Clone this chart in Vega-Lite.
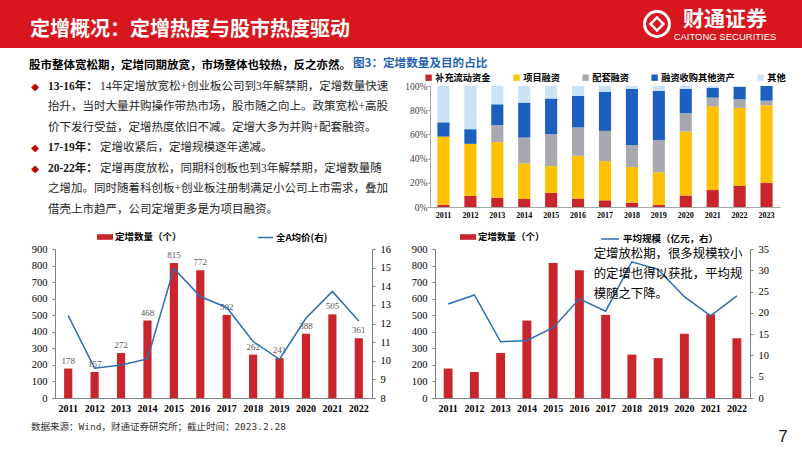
{
  "$schema": "https://vega.github.io/schema/vega-lite/v6.json",
  "background": "white",
  "padding": 0,
  "autosize": {"type": "pad"},
  "spacing": 0,
  "bounds": "full",
  "resolve": {"scale": {"color": "independent", "stroke": "independent"}},
  "title": {"text": "定增概况：定增热度与股市热度驱动", "anchor": "start", "frame": "bounds", "orient": "top", "offset": -50, "dx": 30, "baseline": "middle", "color": "white", "fontSize": 20, "fontWeight": "bold", "font": "Noto Sans CJK SC"},
  "config": {"view": {"stroke": null}, "concat": {"spacing": 0}, "axis": {"labelOverlap": false}},
  "vconcat": [
    {
      "hconcat": [
        {"width": 640, "height": 48, "view": {"fill": "#d7161d", "stroke": null}, "data": {"values": []}, "mark": "point", "encoding": {}},
        {"width": 34, "height": 48, "view": {"fill": "#d7161d", "stroke": null}, "data": {"values": [{"k": "logo"}]},
          "layer": [
            {"mark": {"type": "point", "shape": "circle", "filled": false, "stroke": "white", "strokeWidth": 3, "size": 620, "opacity": 1}},
            {"mark": {"type": "point", "shape": "diamond", "filled": false, "stroke": "white", "strokeWidth": 2.5, "size": 170, "opacity": 1}}
          ]},
        {"width": 102, "height": 48, "view": {"fill": "#d7161d", "stroke": null},
          "data": {"values": [{"r": "cn", "t": "财通证券"}, {"r": "en", "t": "CAITONG SECURITIES"}]},
          "encoding": {"y": {"field": "r", "type": "nominal", "scale": {"type": "point", "domain": ["cn", "en"], "range": [20, 37], "padding": 0}, "axis": null}, "text": {"field": "t"}},
          "layer": [
            {"transform": [{"filter": "datum.r === 'cn'"}], "mark": {"type": "text", "fontSize": 21, "fontWeight": "bold", "font": "Noto Sans CJK SC", "color": "white", "baseline": "middle"}},
            {"transform": [{"filter": "datum.r === 'en'"}], "mark": {"type": "text", "fontSize": 9.5, "font": "Liberation Sans", "color": "white", "baseline": "middle"}}
          ]},
        {"width": 26, "height": 48, "view": {"fill": "#d7161d", "stroke": null}, "data": {"values": []}, "mark": "point", "encoding": {}}
      ],
      "spacing": 0, "bounds": "flush",
      "resolve": {"scale": {"color": "independent", "stroke": "independent"}}
    },
    {
      "hconcat": [
        {
          "width": 430, "height": 181,
          "data": {"values": [
            {"line": 1, "kind": "lead", "pre": "", "t": "股市整体宽松期，定增同期放宽，市场整体也较热，反之亦然。"},
            {"line": 2, "kind": "body", "pre": "13-16年：", "t": "14年定增放宽松+创业板公司到3年解禁期，定增数量快速"},
            {"line": 3, "kind": "body", "pre": "", "t": "抬升，当时大量并购操作带热市场，股市随之向上。政策宽松+高股"},
            {"line": 4, "kind": "body", "pre": "", "t": "价下发行受益，定增热度依旧不减。定增大多为并购+配套融资。"},
            {"line": 5, "kind": "body", "pre": "17-19年：", "t": "定增收紧后，定增规模逐年递减。"},
            {"line": 6, "kind": "body", "pre": "20-22年：", "t": "定增再度放松，同期科创板也到3年解禁期，定增数量随"},
            {"line": 7, "kind": "body", "pre": "", "t": "之增加。同时随着科创板+创业板注册制满足小公司上市需求，叠加"},
            {"line": 8, "kind": "body", "pre": "", "t": "借壳上市趋严，公司定增更多是为项目融资。"}
          ]},
          "encoding": {
            "x": {"field": "kind", "type": "nominal", "scale": {"type": "point", "domain": ["lead", "body"], "range": [29, 48], "padding": 0}, "axis": null},
            "y": {"field": "line", "type": "ordinal", "scale": {"type": "point", "domain": [1, 2, 3, 4, 5, 6, 7, 8], "range": [18, 162], "padding": 0}, "axis": null}
          },
          "layer": [
            {"transform": [{"filter": "datum.kind === 'lead'"}], "mark": {"type": "text", "align": "left", "baseline": "middle", "fontSize": 11.5, "fontWeight": "bold", "font": "Noto Sans CJK SC", "color": "#000000"}, "encoding": {"text": {"field": "t"}}},
            {"transform": [{"filter": "datum.pre !== ''"}], "mark": {"type": "text", "align": "center", "baseline": "middle", "dx": -13, "fontSize": 10, "font": "DejaVu Sans", "color": "#c00000"}, "encoding": {"text": {"value": "◆"}}},
            {"transform": [{"filter": "datum.pre !== ''"}], "mark": {"type": "text", "align": "left", "baseline": "middle", "fontSize": 11.5, "fontWeight": "bold", "font": "Liberation Serif, Noto Sans CJK SC", "color": "#1a1a1a"}, "encoding": {"text": {"field": "pre"}}},
            {"transform": [{"filter": "datum.pre !== ''"}], "mark": {"type": "text", "align": "left", "baseline": "middle", "dx": 52, "fontSize": 11.5, "font": "Liberation Serif, Noto Sans CJK SC", "color": "#262626"}, "encoding": {"text": {"field": "t"}}},
            {"transform": [{"filter": "datum.kind === 'body' && datum.pre === ''"}], "mark": {"type": "text", "align": "left", "baseline": "middle", "fontSize": 11.5, "font": "Liberation Serif, Noto Sans CJK SC", "color": "#262626"}, "encoding": {"text": {"field": "t"}}}
          ]
        },
        {
          "vconcat": [
            {"width": 350, "height": 38, "data": {"values": []}, "mark": "point", "encoding": {}},
            {
              "width": 350, "height": 121,
              "title": {"text": "图3：定增数量及目的占比", "anchor": "start", "frame": "group", "orient": "top", "dx": -77, "offset": -3, "baseline": "middle", "fontSize": 11.6, "fontWeight": "bold", "color": "#1f5fb4", "font": "Noto Sans CJK SC"},
              "data": {"values": [
                {"year": "2011", "c": "补充流动资金", "o": 1, "v": 1.6}, {"year": "2011", "c": "项目融资", "o": 2, "v": 56.6}, {"year": "2011", "c": "配套融资", "o": 3, "v": 0}, {"year": "2011", "c": "融资收购其他资产", "o": 4, "v": 11.8}, {"year": "2011", "c": "其他", "o": 5, "v": 30.0},
                {"year": "2012", "c": "补充流动资金", "o": 1, "v": 9.1}, {"year": "2012", "c": "项目融资", "o": 2, "v": 43.1}, {"year": "2012", "c": "配套融资", "o": 3, "v": 0}, {"year": "2012", "c": "融资收购其他资产", "o": 4, "v": 12.1}, {"year": "2012", "c": "其他", "o": 5, "v": 35.7},
                {"year": "2013", "c": "补充流动资金", "o": 1, "v": 7.7}, {"year": "2013", "c": "项目融资", "o": 2, "v": 45.9}, {"year": "2013", "c": "配套融资", "o": 3, "v": 14.0}, {"year": "2013", "c": "融资收购其他资产", "o": 4, "v": 17.3}, {"year": "2013", "c": "其他", "o": 5, "v": 15.1},
                {"year": "2014", "c": "补充流动资金", "o": 1, "v": 6.6}, {"year": "2014", "c": "项目融资", "o": 2, "v": 29.4}, {"year": "2014", "c": "配套融资", "o": 3, "v": 21.4}, {"year": "2014", "c": "融资收购其他资产", "o": 4, "v": 28.9}, {"year": "2014", "c": "其他", "o": 5, "v": 13.7},
                {"year": "2015", "c": "补充流动资金", "o": 1, "v": 11.8}, {"year": "2015", "c": "项目融资", "o": 2, "v": 22.0}, {"year": "2015", "c": "配套融资", "o": 3, "v": 26.4}, {"year": "2015", "c": "融资收购其他资产", "o": 4, "v": 29.4}, {"year": "2015", "c": "其他", "o": 5, "v": 10.4},
                {"year": "2016", "c": "补充流动资金", "o": 1, "v": 6.9}, {"year": "2016", "c": "项目融资", "o": 2, "v": 35.4}, {"year": "2016", "c": "配套融资", "o": 3, "v": 23.4}, {"year": "2016", "c": "融资收购其他资产", "o": 4, "v": 26.1}, {"year": "2016", "c": "其他", "o": 5, "v": 8.2},
                {"year": "2017", "c": "补充流动资金", "o": 1, "v": 5.5}, {"year": "2017", "c": "项目融资", "o": 2, "v": 32.4}, {"year": "2017", "c": "配套融资", "o": 3, "v": 25.0}, {"year": "2017", "c": "融资收购其他资产", "o": 4, "v": 32.4}, {"year": "2017", "c": "其他", "o": 5, "v": 4.7},
                {"year": "2018", "c": "补充流动资金", "o": 1, "v": 3.6}, {"year": "2018", "c": "项目融资", "o": 2, "v": 29.4}, {"year": "2018", "c": "配套融资", "o": 3, "v": 18.1}, {"year": "2018", "c": "融资收购其他资产", "o": 4, "v": 46.4}, {"year": "2018", "c": "其他", "o": 5, "v": 2.5},
                {"year": "2019", "c": "补充流动资金", "o": 1, "v": 1.6}, {"year": "2019", "c": "项目融资", "o": 2, "v": 27.0}, {"year": "2019", "c": "配套融资", "o": 3, "v": 26.6}, {"year": "2019", "c": "融资收购其他资产", "o": 4, "v": 40.7}, {"year": "2019", "c": "其他", "o": 5, "v": 4.1},
                {"year": "2020", "c": "补充流动资金", "o": 1, "v": 9.6}, {"year": "2020", "c": "项目融资", "o": 2, "v": 52.8}, {"year": "2020", "c": "配套融资", "o": 3, "v": 15.1}, {"year": "2020", "c": "融资收购其他资产", "o": 4, "v": 20.3}, {"year": "2020", "c": "其他", "o": 5, "v": 2.2},
                {"year": "2021", "c": "补充流动资金", "o": 1, "v": 14.0}, {"year": "2021", "c": "项目融资", "o": 2, "v": 69.2}, {"year": "2021", "c": "配套融资", "o": 3, "v": 7.2}, {"year": "2021", "c": "融资收购其他资产", "o": 4, "v": 8.2}, {"year": "2021", "c": "其他", "o": 5, "v": 1.4},
                {"year": "2022", "c": "补充流动资金", "o": 1, "v": 17.6}, {"year": "2022", "c": "项目融资", "o": 2, "v": 64.3}, {"year": "2022", "c": "配套融资", "o": 3, "v": 7.1}, {"year": "2022", "c": "融资收购其他资产", "o": 4, "v": 10.2}, {"year": "2022", "c": "其他", "o": 5, "v": 0.8},
                {"year": "2023", "c": "补充流动资金", "o": 1, "v": 19.8}, {"year": "2023", "c": "项目融资", "o": 2, "v": 64.3}, {"year": "2023", "c": "配套融资", "o": 3, "v": 3.8}, {"year": "2023", "c": "融资收购其他资产", "o": 4, "v": 12.1}, {"year": "2023", "c": "其他", "o": 5, "v": 0.0}
              ]},
              "mark": {"type": "bar"},
              "encoding": {
                "x": {"field": "year", "type": "nominal", "scale": {"paddingInner": 0.55, "paddingOuter": 0.275}, "axis": {"title": null, "labelAngle": 0, "ticks": false, "labelFont": "Liberation Serif", "labelFontWeight": "bold", "labelFontSize": 8, "labelColor": "#000000", "labelPadding": 4, "domainColor": "#a6a6a6"}},
                "y": {"field": "v", "type": "quantitative", "stack": "zero", "scale": {"domain": [0, 100], "nice": false}, "axis": {"title": null, "values": [0, 20, 40, 60, 80, 100], "labelExpr": "datum.value + '%'", "grid": false, "labelFont": "Liberation Serif", "labelFontSize": 9.5, "labelColor": "#404040", "domainColor": "#a6a6a6", "tickColor": "#a6a6a6", "tickSize": 3, "labelPadding": 0}},
                "color": {"field": "c", "type": "nominal", "scale": {"domain": ["补充流动资金", "项目融资", "配套融资", "融资收购其他资产", "其他"], "range": ["#c8262c", "#ffc000", "#a7a9ae", "#1c5fbf", "#c9e2f6"]},
                  "legend": {"orient": "none", "legendX": -6, "legendY": -13, "direction": "horizontal", "title": null, "symbolType": "square", "symbolSize": 40, "symbolStrokeWidth": 0, "labelFontSize": 9.2, "labelFontWeight": "bold", "labelFont": "Noto Sans CJK SC", "labelColor": "#000000", "columnPadding": 21, "labelOffset": 2, "padding": 0}},
                "order": {"field": "o", "type": "quantitative"}
              }
            }
          ],
          "spacing": 0, "bounds": "flush",
          "resolve": {"scale": {"color": "independent", "stroke": "independent"}}
        }
      ],
      "spacing": 0, "bounds": "flush",
      "resolve": {"scale": {"color": "independent", "stroke": "independent"}}
    },
    {
      "hconcat": [
        {"width": 55, "height": 149, "data": {"values": []}, "mark": "point", "encoding": {}},
        {
          "width": 317, "height": 149,
          "data": {"values": [
            {"year": "2011", "n": 178, "p": 12.42}, {"year": "2012", "n": 157, "p": 9.6}, {"year": "2013", "n": 272, "p": 9.77},
            {"year": "2014", "n": 468, "p": 10.1}, {"year": "2015", "n": 815, "p": 14.95}, {"year": "2016", "n": 772, "p": 13.45},
            {"year": "2017", "n": 502, "p": 12.86}, {"year": "2018", "n": 262, "p": 11.03}, {"year": "2019", "n": 241, "p": 10.08},
            {"year": "2020", "n": 388, "p": 12.28}, {"year": "2021", "n": 505, "p": 13.72}, {"year": "2022", "n": 361, "p": 12.14}
          ]},
          "encoding": {"x": {"field": "year", "type": "nominal", "scale": {"paddingInner": 0.69, "paddingOuter": 0.345}, "axis": {"title": null, "labelAngle": 0, "ticks": false, "labelFont": "Liberation Serif", "labelFontWeight": "bold", "labelFontSize": 10, "labelColor": "#000000", "labelPadding": 5, "domainColor": "#808080"}}},
          "layer": [
            {"layer": [
              {"mark": {"type": "bar"}, "encoding": {
                "y": {"field": "n", "type": "quantitative", "scale": {"domain": [0, 900], "nice": false}, "axis": {"title": null, "values": [0, 100, 200, 300, 400, 500, 600, 700, 800, 900], "grid": false, "labelFont": "Liberation Serif", "labelFontSize": 10.5, "labelColor": "#000000", "domainColor": "#808080", "tickColor": "#808080", "tickSize": 3, "labelPadding": 5, "labelOverlap": false}},
                "color": {"datum": "定增数量（个）", "type": "nominal", "scale": {"range": ["#c8262c"]}, "legend": {"orient": "none", "legendX": 42, "legendY": -20, "title": null, "symbolType": "M-1,-0.35H1V0.35H-1Z", "symbolSize": 256, "symbolStrokeWidth": 0, "labelFontSize": 9.5, "labelFontWeight": "bold", "labelFont": "Noto Sans CJK SC", "labelColor": "#000000", "labelOffset": 2, "padding": 0}}
              }},
              {"mark": {"type": "text", "baseline": "bottom", "dy": -3, "fontSize": 9, "font": "Liberation Serif", "color": "#595959"}, "encoding": {
                "y": {"field": "n", "type": "quantitative", "scale": {"domain": [0, 900], "nice": false}, "axis": {"title": null, "values": [0, 100, 200, 300, 400, 500, 600, 700, 800, 900], "grid": false, "labelFont": "Liberation Serif", "labelFontSize": 10.5, "labelColor": "#000000", "domainColor": "#808080", "tickColor": "#808080", "tickSize": 3, "labelPadding": 5, "labelOverlap": false}},
                "text": {"field": "n"}}}
            ]},
            {"mark": {"type": "line", "strokeWidth": 1.5}, "encoding": {
              "y": {"field": "p", "type": "quantitative", "scale": {"domain": [8, 16], "nice": false, "zero": false}, "axis": {"title": null, "orient": "right", "values": [8, 9, 10, 11, 12, 13, 14, 15, 16], "grid": false, "labelFont": "Liberation Serif", "labelFontSize": 10.5, "labelColor": "#000000", "domainColor": "#808080", "tickColor": "#808080", "tickSize": 3, "labelPadding": 5}},
              "stroke": {"datum": "全A均价(右)", "type": "nominal", "scale": {"range": ["#2e6db4"]}, "legend": {"orient": "none", "legendX": 202, "legendY": -20, "title": null, "symbolType": "stroke", "symbolSize": 225, "symbolStrokeWidth": 1.5, "labelFontSize": 9.5, "labelFontWeight": "bold", "labelFont": "Noto Sans CJK SC", "labelColor": "#000000", "labelOffset": 2, "padding": 0}}
            }}
          ],
          "resolve": {"scale": {"y": "independent"}}
        },
        {"width": 63, "height": 149, "data": {"values": []}, "mark": "point", "encoding": {}},
        {
          "width": 315, "height": 149,
          "data": {"values": [
            {"year": "2011", "n": 178, "s": 22.1}, {"year": "2012", "n": 157, "s": 24.2}, {"year": "2013", "n": 272, "s": 13.2},
            {"year": "2014", "n": 468, "s": 13.5}, {"year": "2015", "n": 815, "s": 16.5}, {"year": "2016", "n": 772, "s": 23.3},
            {"year": "2017", "n": 502, "s": 20.4}, {"year": "2018", "n": 262, "s": 32.0}, {"year": "2019", "n": 241, "s": 30.2},
            {"year": "2020", "n": 388, "s": 23.8}, {"year": "2021", "n": 505, "s": 19.3}, {"year": "2022", "n": 361, "s": 24.0}
          ]},
          "encoding": {"x": {"field": "year", "type": "nominal", "scale": {"paddingInner": 0.66, "paddingOuter": 0.33}, "axis": {"title": null, "labelAngle": 0, "ticks": false, "labelFont": "Liberation Serif", "labelFontWeight": "bold", "labelFontSize": 10, "labelColor": "#000000", "labelPadding": 5, "domainColor": "#808080"}}},
          "layer": [
            {"mark": {"type": "bar"}, "encoding": {
              "y": {"field": "n", "type": "quantitative", "scale": {"domain": [0, 900], "nice": false}, "axis": {"title": null, "values": [0, 100, 200, 300, 400, 500, 600, 700, 800, 900], "grid": false, "labelFont": "Liberation Serif", "labelFontSize": 10.5, "labelColor": "#000000", "domainColor": "#808080", "tickColor": "#808080", "tickSize": 3, "labelPadding": 5}},
              "color": {"datum": "定增数量（个）", "type": "nominal", "scale": {"range": ["#c8262c"]}, "legend": {"orient": "none", "legendX": 25, "legendY": -20, "title": null, "symbolType": "M-1,-0.35H1V0.35H-1Z", "symbolSize": 256, "symbolStrokeWidth": 0, "labelFontSize": 9.5, "labelFontWeight": "bold", "labelFont": "Noto Sans CJK SC", "labelColor": "#000000", "labelOffset": 2, "padding": 0}}
            }},
            {"mark": {"type": "line", "strokeWidth": 1.5}, "encoding": {
              "y": {"field": "s", "type": "quantitative", "scale": {"domain": [0, 35], "nice": false}, "axis": {"title": null, "orient": "right", "values": [0, 5, 10, 15, 20, 25, 30, 35], "grid": false, "labelFont": "Liberation Serif", "labelFontSize": 10.5, "labelColor": "#000000", "domainColor": "#808080", "tickColor": "#808080", "tickSize": 3, "labelPadding": 5}},
              "stroke": {"datum": "平均规模（亿元，右）", "type": "nominal", "scale": {"range": ["#2e6db4"]}, "legend": {"orient": "none", "legendX": 165, "legendY": -20, "title": null, "symbolType": "stroke", "symbolSize": 324, "symbolStrokeWidth": 1.5, "labelFontSize": 9.5, "labelFontWeight": "bold", "labelFont": "Noto Sans CJK SC", "labelColor": "#000000", "labelOffset": 3, "padding": 0}}
            }},
            {"data": {"values": [
              {"line": 1, "t": "定增放松期，很多规模较小"},
              {"line": 2, "t": "的定增也得以获批，平均规"},
              {"line": 3, "t": "模随之下降。"}
            ]},
              "mark": {"type": "text", "align": "left", "baseline": "middle", "dx": -12, "fontSize": 12.4, "font": "Noto Sans CJK SC", "color": "#000000"},
              "encoding": {
                "x": {"datum": "2017", "type": "nominal"},
                "y": {"field": "line", "type": "ordinal", "scale": {"type": "point", "domain": [1, 2, 3], "range": [5, 45], "padding": 0}, "axis": null},
                "text": {"field": "t"}
              }}
          ],
          "resolve": {"scale": {"y": "independent"}}
        }
      ],
      "spacing": 0, "bounds": "flush",
      "resolve": {"scale": {"color": "independent", "stroke": "independent"}}
    },
    {
      "width": 802, "height": 38,
      "data": {"values": [{"k": "src", "t": "数据来源：Wind，财通证券研究所；截止时间：2023.2.28"}, {"k": "page", "t": "7"}]},
      "encoding": {
        "x": {"field": "k", "type": "nominal", "scale": {"type": "point", "domain": ["src", "page"], "range": [31, 783], "padding": 0}, "axis": null},
        "y": {"field": "k", "type": "nominal", "scale": {"type": "point", "domain": ["src", "page"], "range": [14, 24], "padding": 0}, "axis": null},
        "text": {"field": "t"}
      },
      "layer": [
        {"transform": [{"filter": "datum.k === 'src'"}], "mark": {"type": "text", "align": "left", "baseline": "middle", "fontSize": 9.5, "font": "DejaVu Sans Mono, Noto Sans CJK SC", "color": "#333333"}},
        {"transform": [{"filter": "datum.k === 'page'"}], "mark": {"type": "text", "align": "center", "baseline": "middle", "fontSize": 17, "font": "Liberation Sans", "color": "#1a1a1a"}}
      ]
    }
  ]
}
